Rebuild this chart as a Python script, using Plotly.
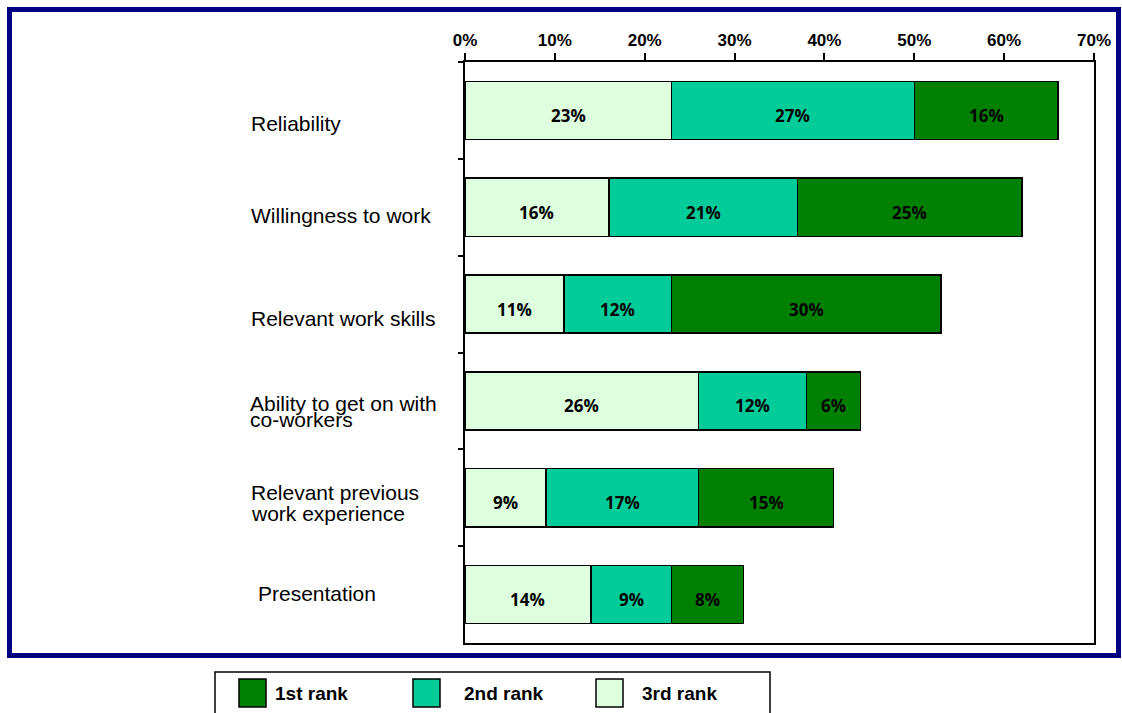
import plotly.graph_objects as go

# Survey: most valued attributes, share of respondents by rank given
categories = [
    "Reliability",
    "Willingness to work",
    "Relevant work skills",
    "Ability to get on with co-workers",
    "Relevant previous work experience",
    "Presentation",
]
label_lines = [
    ["Reliability"],
    ["Willingness to work"],
    ["Relevant work skills"],
    ["Ability to get on with", "co-workers"],
    ["Relevant previous", "work experience"],
    ["Presentation"],
]
rank3 = [23, 16, 11, 26, 9, 14]
rank2 = [27, 21, 12, 12, 17, 9]
rank1 = [16, 25, 30, 6, 15, 8]
series_names = ["3rd rank", "2nd rank", "1st rank"]
series_values = [rank3, rank2, rank1]
series_colors = ["#DDFFDD", "#00CC99", "#008000"]
x_ticks = [0, 10, 20, 30, 40, 50, 60, 70]
x_tick_text = ["0%", "10%", "20%", "30%", "40%", "50%", "60%", "70%"]

# page and plot-area geometry (pixels)
W, H = 1122, 713
L, R, T, B = 465, 1094, 62, 643


def px(x):
    return (x - L) / (R - L)


def py(y):
    return (B - y) / (B - T)


fig = go.Figure()
annotations = []
base = [0] * len(categories)
for name, vals, col in zip(series_names, series_values, series_colors):
    fig.add_trace(go.Bar(
        y=categories, x=vals, name=name, orientation="h",
        marker=dict(color=col, line=dict(color="#000000", width=1.5)),
        showlegend=False,
    ))
    # value labels centred in each segment, sitting a little below mid-bar
    for cat, b, v in zip(categories, base, vals):
        annotations.append(dict(
            x=b + v / 2, y=cat, xref="x", yref="y", text=f"{v}%",
            xanchor="center", yanchor="middle", yshift=-5, showarrow=False,
            font=dict(family="Open Sans", size=17, color="#000000", weight="bold"),
        ))
    base = [b + v for b, v in zip(base, vals)]

# category labels, left aligned in the margin
label_x = [249, 249, 249, 248, 249, 256]
label_offsets = [[13], [8], [14], [3, 19], [-5, 16], [-1]]
for cat, lines, lx, offs in zip(categories, label_lines, label_x, label_offsets):
    for line, off in zip(lines, offs):
        annotations.append(dict(
            x=px(lx), xref="paper", y=cat, yref="y", text=line,
            xanchor="left", yanchor="middle", yshift=-off, showarrow=False,
            font=dict(family="Liberation Sans, Arial", size=21, color="#000000"),
        ))

shapes = []
# navy outer frame
shapes.append(dict(type="rect", xref="paper", yref="paper",
                   x0=px(9.5), x1=px(1118.5), y0=py(655.5), y1=py(9.5),
                   line=dict(color="#000080", width=5), layer="below"))

# legend box drawn by hand (large swatches)
shapes.append(dict(type="rect", xref="paper", yref="paper",
                   x0=px(215), x1=px(770), y0=py(720), y1=py(672),
                   line=dict(color="#000000", width=1.5)))
legend_swatch_x = [239, 413, 596]
legend_text_x = [273, 462, 640]
for i, idx in enumerate([2, 1, 0]):
    sx = legend_swatch_x[i]
    shapes.append(dict(type="rect", xref="paper", yref="paper",
                       x0=px(sx), x1=px(sx + 27), y0=py(707), y1=py(679),
                       fillcolor=series_colors[idx],
                       line=dict(color="#000000", width=1.5)))
    annotations.append(dict(
        x=px(legend_text_x[i]), xref="paper", y=py(694), yref="paper",
        text=series_names[idx], xanchor="left", yanchor="middle", showarrow=False,
        font=dict(family="Liberation Sans, Arial", size=19, color="#000000", weight="bold"),
    ))

fig.update_layout(
    width=W, height=H,
    margin=dict(l=L, r=W - R, t=T, b=H - B, pad=0),
    paper_bgcolor="#FFFFFF", plot_bgcolor="#FFFFFF",
    barmode="stack", bargap=0.4,
    annotations=annotations, shapes=shapes,
    xaxis=dict(
        side="top", range=[0, 70], tickvals=x_ticks, ticktext=x_tick_text,
        showgrid=False, zeroline=False,
        showline=True, linecolor="#000000", linewidth=2, mirror=True,
        ticks="outside", ticklen=7, tickwidth=1.5, tickcolor="#000000",
        tickfont=dict(family="Liberation Sans, Arial", size=17, color="#000000", weight="bold"),
    ),
    yaxis=dict(
        autorange="reversed", showticklabels=False, showgrid=False,
        showline=True, linecolor="#000000", linewidth=1.5, mirror=True,
        ticks="outside", ticklen=5, tickwidth=1.5, tickcolor="#000000",
        tickson="boundaries",
    ),
)

fig.write_html("out.html")
